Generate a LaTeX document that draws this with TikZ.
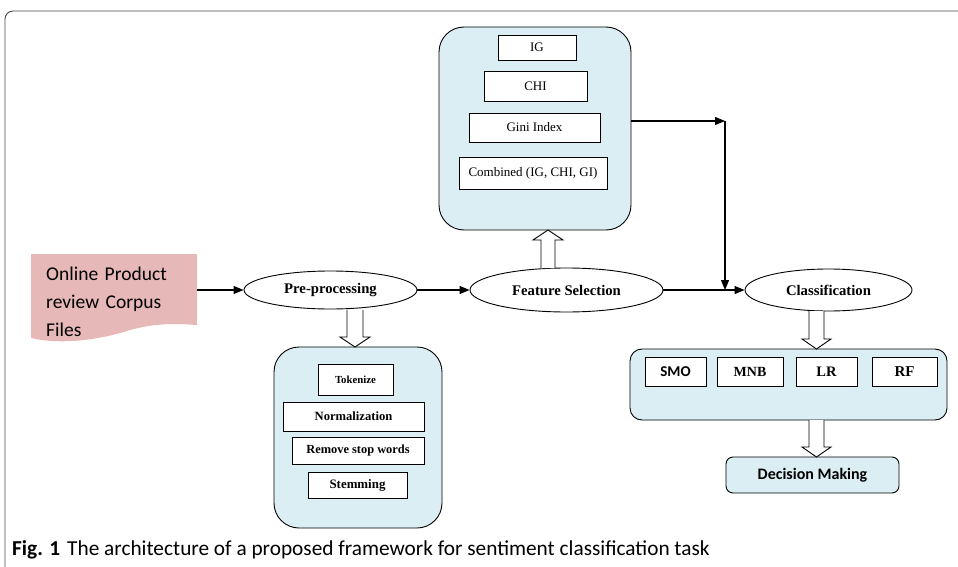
\documentclass[tikz,border=0pt]{standalone}
\usepackage{fontspec}
\setmainfont{Liberation Serif}
\newfontfamily\calib{Carlito}
\usetikzlibrary{shapes.geometric,arrows.meta}
\definecolor{lblue}{RGB}{219,238,243}
\definecolor{pinkc}{RGB}{230,184,183}
\definecolor{framec}{RGB}{70,70,70}
\newcommand{\fs}[1]{\fontsize{#1}{#1}\selectfont}
\begin{document}
\begin{tikzpicture}[x=1pt,y=-1pt,
  every node/.style={inner sep=0pt},
  ell/.style={ellipse,draw,line width=0.9pt,font=\bfseries\fs{14.7}},
  grp/.style={draw,fill=lblue,line width=0.9pt,rounded corners=25pt},
  item/.style={draw,fill=white,line width=0.9pt},
  arr/.style={-{Triangle[length=10pt,width=8pt]},line width=1.2pt},
  hollow/.style={draw,fill=white,line width=0.9pt}]
\useasboundingbox (0,0) rectangle (958,567);
% frame
\draw[framec,line width=0.9pt,rounded corners=8pt] (5,567) -- (5,11) -- (958,11);
% document shape
\fill[pinkc] (31,254) -- (197,254) -- (197,325)
  .. controls (180,324) and (160,322) .. (130,330)
  .. controls (100,340) and (60,345) .. (31,338) -- cycle;
\node[anchor=north west,align=left,font=\calib\fontsize{19.5}{28}\selectfont,text width=160pt] (doc) at (46,267)
  {Online Product\\review Corpus\\Files};
\coordinate (docr) at (197,290);
% ellipses
\node[ell,minimum width=173pt,minimum height=38pt] (pre) at (330.5,290) {Pre-processing};
\node[ell,minimum width=193pt,minimum height=44pt] (fsel) at (566.5,290) {Feature Selection};
\node[ell,minimum width=167pt,minimum height=42pt] (cls) at (828.5,290) {Classification};
% feature selection group
\node[grp,minimum width=192pt,minimum height=203pt] (fsg) at (535,128.5) {};
\node[item,minimum width=78pt,minimum height=25pt,font=\fs{13}] (ig) at (537,47.5) {IG};
\node[item,minimum width=103pt,minimum height=30pt,font=\fs{13}] (chi) at (535.5,86) {CHI};
\node[item,minimum width=131pt,minimum height=29pt,font=\fs{13}] (gini) at (534.5,127.5) {Gini Index};
\node[item,minimum width=148pt,minimum height=32pt,font=\fs{13}] (comb) at (533,173) {Combined (IG, CHI, GI)};
% preprocessing group
\node[grp,minimum width=168pt,minimum height=181pt] (ppg) at (358,437.5) {};
\node[item,minimum width=75pt,minimum height=31pt,font=\bfseries\fs{10.8}] (tok) at (355.5,379.5) {Tokenize};
\node[item,minimum width=141pt,minimum height=29pt,font=\bfseries\fs{12.6}] (norm) at (353.5,416.5) {Normalization};
\node[item,minimum width=132pt,minimum height=27pt,font=\bfseries\fs{12.4}] (rsw) at (358,450.5) {Remove stop words};
\node[item,minimum width=99pt,minimum height=26pt,font=\bfseries\fs{12.9}] (stem) at (357.5,485) {Stemming};
% classification group
\node[grp,rounded corners=12pt,minimum width=317pt,minimum height=71pt] (clg) at (788.5,384.5) {};
\node[item,minimum width=61pt,minimum height=29pt,font=\calib\bfseries\fs{15}] (smo) at (675.5,371.5) {SMO};
\node[item,minimum width=66pt,minimum height=29pt,font=\bfseries\fs{14}] (mnb) at (750,371.5) {MNB};
\node[item,minimum width=61pt,minimum height=29pt,font=\bfseries\fs{14.5}] (lr) at (826.5,371.5) {LR};
\node[item,minimum width=65pt,minimum height=29pt,font=\bfseries\fs{15}] (rf) at (904.5,371.5) {RF};
\node[grp,rounded corners=7pt,minimum width=173pt,minimum height=36pt,font=\calib\bfseries\fs{16}] (dec) at (812.5,475) {Decision Making};
% connectors
\draw[arr] (docr) -- (pre.west);
\draw[arr] (pre.east) -- (fsel.west);
\draw[arr] (fsel.east) -- (cls.west);
\coordinate (j1) at (725,121);
\draw[arr] (fsg.east |- j1) -- (j1);
\draw[arr] (j1) -- (j1 |- cls.west);
% hollow arrows
\draw[hollow] (541,268) -- (541,240) -- (533,240) -- (548,230) -- (563,240) -- (555,240) -- (555,268);
\draw[hollow] (347,310) -- (347,337) -- (340,337) -- (355,347) -- (370,337) -- (363,337) -- (363,310);
\draw[hollow] (809,311) -- (809,339) -- (802,339) -- (816.5,349) -- (831,339) -- (824,339) -- (824,311);
\draw[hollow] (809,420) -- (809,447) -- (802,447) -- (816.5,457) -- (831,447) -- (824,447) -- (824,420);
% caption
\node[anchor=west,font=\calib\fs{21.3}] (cap) at (12,550) {\textbf{Fig. 1}\hspace{7pt}The architecture of a proposed framework for sentiment classification task};
\end{tikzpicture}
\end{document}
